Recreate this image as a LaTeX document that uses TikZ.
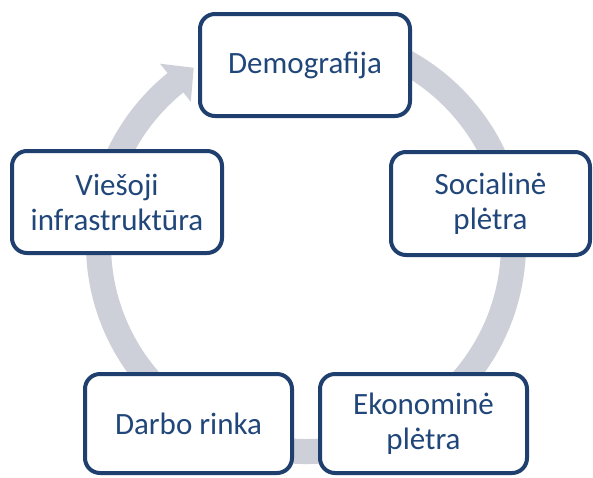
\documentclass[tikz,border=0pt]{standalone}
\usepackage{fontspec}
\setmainfont{Carlito}
\definecolor{boxblue}{HTML}{1F3F6E}
\definecolor{textblue}{HTML}{21477A}
\definecolor{ringgray}{HTML}{CDD0D9}
\begin{document}
\begin{tikzpicture}[x=1pt,y=1pt,
  stagebox/.style={rectangle, rounded corners=15pt, draw=boxblue, line width=4pt,
    fill=white, align=center, text=textblue, inner sep=0pt,
    font=\fontsize{31}{35}\selectfont}]
\useasboundingbox (0,0) rectangle (593,-477);
% ring arrow
\begin{scope}[shift={(306,-244)}]
\fill[ringgray] (80:220) arc[start angle=80, end angle=-231, radius=220]
  -- (129:232) -- (122.5:209) -- (129:183) -- (129:195)
  arc[start angle=-231, end angle=80, radius=195] -- cycle;
\end{scope}
\node[stagebox, minimum width=210pt, minimum height=102pt] (demo) at (305,-65) {Demografija};
\node[stagebox, minimum width=199pt, minimum height=103pt] (soc) at (490.5,-203.5) {Socialinė\\plėtra};
\node[stagebox, minimum width=207pt, minimum height=99pt] (ekon) at (423.5,-423.5) {Ekonominė\\plėtra};
\node[stagebox, minimum width=207pt, minimum height=99pt] (darbo) at (188.5,-423.5) {Darbo rinka};
\node[stagebox, minimum width=210pt, minimum height=102pt] (vies) at (117,-202) {Viešoji\\infrastruktūra};
\end{tikzpicture}
\end{document}
